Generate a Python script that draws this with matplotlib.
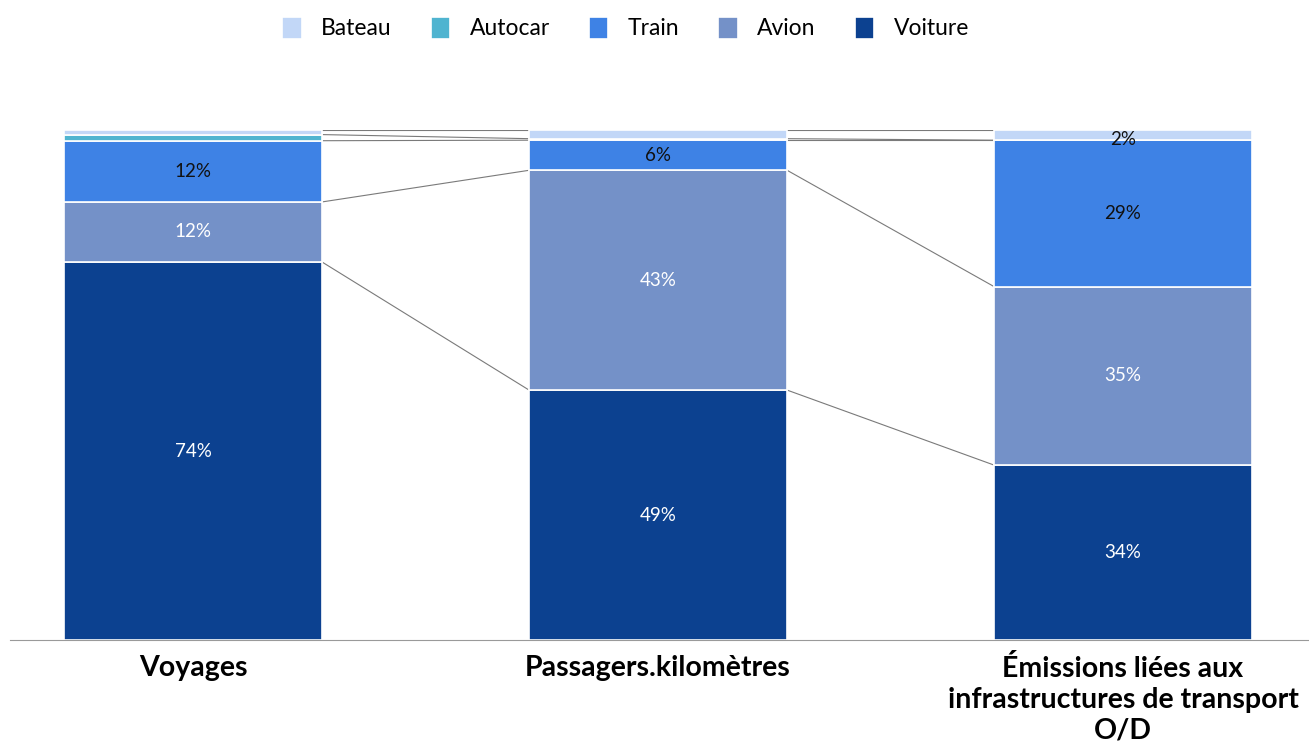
import numpy as np
import matplotlib
matplotlib.use("Agg")
import matplotlib.pyplot as plt

plt.rcParams["font.family"] = ["Lato", "DejaVu Sans"]

categories = ["Voyages", "Passagers.kilomètres",
              "Émissions liées aux\ninfrastructures de transport\nO/D"]
modes = ["Voiture", "Avion", "Train", "Autocar", "Bateau"]  # bottom -> top
shares = {
    "Voiture": [74.1, 49.0, 34.3],
    "Avion":   [11.8, 43.1, 35.0],
    "Train":   [12.0, 5.9, 28.7],
    "Autocar": [1.2, 0.3, 0.0],
    "Bateau":  [0.9, 1.7, 2.0],
}
labels = {
    "Voiture": ["74%", "49%", "34%"],
    "Avion":   ["12%", "43%", "35%"],
    "Train":   ["12%", "6%", "29%"],
    "Autocar": ["", "", ""],
    "Bateau":  ["", "", "2%"],
}
colors = {"Bateau": "#c2d7f7", "Autocar": "#4fb4d0", "Train": "#3e82e5",
          "Avion": "#7491c8", "Voiture": "#0c4190"}
text_colors = {"Voiture": "white", "Avion": "white", "Train": "#111111",
               "Autocar": "#111111", "Bateau": "#111111"}

fig = plt.figure(figsize=(13.09, 7.42), dpi=100)
ax = fig.add_axes([10 / 1309, 102 / 742, 1299 / 1309, 510 / 742])

x = np.arange(len(categories))
w = 0.555
bottom = np.zeros(len(categories))
tops = []
for m in modes:
    vals = np.array(shares[m])
    ax.bar(x, vals, w, bottom=bottom, color=colors[m], edgecolor="white",
           linewidth=1.2, label=m, zorder=2)
    for i, v in enumerate(vals):
        if labels[m][i]:
            yc = bottom[i] + v / 2
            if m == "Bateau":
                yc = bottom[i] + v * 0.1
            ax.text(x[i], yc, labels[m][i], ha="center", va="center",
                    color=text_colors[m], fontsize=13.5, zorder=3)
    bottom = bottom + vals
    tops.append(bottom.copy())

# connector lines between segment boundaries
for t in tops:
    for i in range(len(categories) - 1):
        ax.plot([x[i] + w / 2, x[i + 1] - w / 2], [t[i], t[i + 1]],
                color="#7a7a7a", lw=0.8, zorder=1)

ax.set_xlim(-0.394, 2.4)
ax.set_ylim(0, 100)
for s in ["top", "right", "left"]:
    ax.spines[s].set_visible(False)
ax.spines["bottom"].set_color("#9a9a9a")
ax.set_yticks([])
ax.set_xticks(x)
ax.set_xticklabels(categories, fontsize=20.5, fontweight="bold", linespacing=1.22)
ax.tick_params(axis="x", length=0, pad=11)

handles, labs = ax.get_legend_handles_labels()
order = [4, 3, 2, 1, 0]
fig.legend([handles[k] for k in order], [labs[k] for k in order],
           loc="center", bbox_to_anchor=(0.478, 1 - 28 / 742), ncol=5,
           frameon=False, fontsize=16.5, handlelength=0.85, handleheight=1.1,
           columnspacing=1.7, handletextpad=0.85)

fig.savefig("out.png", dpi=100)
